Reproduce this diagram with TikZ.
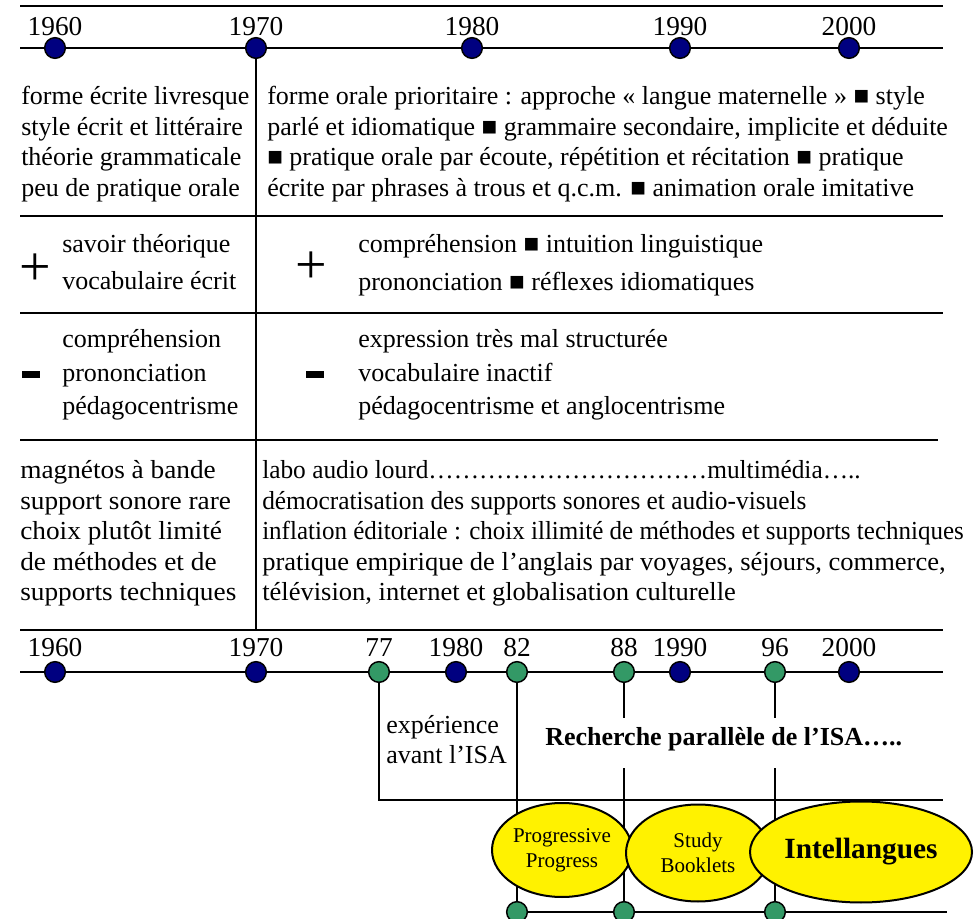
\documentclass[tikz,border=0pt]{standalone}
\usepackage{graphicx}
\usepackage{fontspec}
\setmainfont{Liberation Serif}
\usetikzlibrary{shapes.geometric,backgrounds}
\definecolor{navydot}{RGB}{0,0,128}
\definecolor{greendot}{RGB}{51,153,102}
\begin{document}
\begin{tikzpicture}[x=0.75pt,y=-0.75pt,
  ln/.style={line width=2.2pt},
  dotn/.style={circle,draw=black,line width=1.1pt,fill=navydot,minimum size=15.5pt,inner sep=0pt},
  dotg/.style={dotn,fill=greendot},
  txt/.style={font=\fontsize{19.5}{23}\selectfont,inner sep=0pt,anchor=base west},
  yr/.style={font=\fontsize{20.5}{24}\selectfont,inner sep=0pt},
  sign/.style={font=\fontsize{42}{42}\selectfont,inner sep=0pt},
  ell/.style={ellipse,draw=black,line width=1.5pt,fill=yellow,inner sep=0pt,align=center}]
\useasboundingbox (0,0) rectangle (975,919);
\clip (0,0) rectangle (975,919);

% ---------- top timeline
\foreach \yy/\xx in {1960/55,1970/256,1980/472,1990/680,2000/849}{
  \node[yr] (ty\yy) at (\xx,27) {\yy};
  \node[dotn] (td\yy) at (\xx,48) {};
}

% ---------- row 1
\foreach \t [count=\i] in {{forme écrite livresque},{style écrit et littéraire},{théorie grammaticale},{peu de pratique orale}}
  \node[txt] (ra\i) at ({21},{105+30.5*(\i-1)}) {\t};
\foreach \t [count=\i] in {{forme orale prioritaire : approche « langue maternelle » ■ style},{parlé et idiomatique ■ grammaire secondaire, implicite et déduite},{■ pratique orale par écoute, répétition et récitation ■ pratique},{écrite par phrases à trous et q.c.m. ■ animation orale imitative}}
  \node[txt] (rb\i) at ({267},{105+30.5*(\i-1)}) {\t};

% ---------- row 2 (+)
\node[sign] (plusA) at (35,270) {+};
\node[sign] (plusB) at (311,268) {+};
\node[txt] (pa1) at (62,253) {savoir théorique};
\node[txt] (pa2) at (62,290) {vocabulaire écrit};
\node[txt] (pb1) at (358,253) {compréhension ■ intuition linguistique};
\node[txt] (pb2) at (358,291) {prononciation ■ réflexes idiomatiques};

% ---------- row 3 (-)
\node[inner sep=0pt] (minA) at (31,375) {\rule{13.5pt}{5.25pt}};
\node[inner sep=0pt] (minB) at (315,375) {\rule{13.5pt}{5.25pt}};
\foreach \t [count=\i] in {{compréhension},{prononciation},{pédagocentrisme}}
  \node[txt] (ma\i) at ({62},{348+33.5*(\i-1)}) {\t};
\foreach \t [count=\i] in {{expression très mal structurée},{vocabulaire inactif},{pédagocentrisme et anglocentrisme}}
  \node[txt] (mb\i) at ({358},{348+33.5*(\i-1)}) {\t};

% ---------- row 4
\foreach \t [count=\i] in {{magnétos à bande},{support sonore rare},{choix plutôt limité},{de méthodes et de},{supports techniques}}
  \node[txt] (sa\i) at ({20},{479+30.5*(\i-1)}) {\scalebox{1.05}[1]{\t}};
\foreach \s/\t [count=\i] in {0.975/{labo audio lourd……………………………multimédia…..},0.975/{démocratisation des supports sonores et audio-visuels},0.962/{inflation éditoriale : choix illimité de méthodes et supports techniques},1.02/{pratique empirique de l’anglais par voyages, séjours, commerce,},1.02/{télévision, internet et globalisation culturelle}}
  \node[txt] (sb\i) at ({262},{479+30.5*(\i-1)}) {\scalebox{\s}[1]{\t}};

% ---------- bottom timeline
\foreach \yy/\xx in {1960/55,1970/256,1980/456,1990/680,2000/849}{
  \node[yr] (by\yy) at (\xx,648) {\yy};
  \node[dotn] (bd\yy) at (\xx,672) {};
}
\foreach \yy/\xx in {77/379,82/517,88/624,96/775}{
  \node[yr] (by\yy) at (\xx,648) {\yy};
  \node[dotg] (bd\yy) at (\xx,672) {};
}
\foreach \yy/\xx in {82/517,88/624,96/775}
  \node[dotg] (gd\yy) at (\xx,912) {};

\node[txt] (exp1) at (386,733) {expérience};
\node[txt] (exp2) at (386,763) {avant l’ISA};
\node[txt,font=\fontsize{19.5}{23}\selectfont\bfseries] (rech) at (545,745) {Recherche parallèle de l’ISA…..};

% ---------- lines (behind)
\begin{pgfonlayer}{background}
\draw[ln] (20,6) -- (943,6);
\draw[ln] (20,48) -- (943,48);
\draw[ln] (td1970.center) -- (256,630);
\draw[ln] (20,216) -- (943,216);
\draw[ln] (20,313) -- (943,313);
\draw[ln] (20,440) -- (938,440);
\draw[ln] (20,630) -- (943,630);
\draw[ln] (20,672) -- (943,672);
\draw[ln] (bd77.center) -- (379,800) -- (943,800);
\draw[ln] (bd82.center) -- (gd82.center) -- (947,912);
\draw[ln] (bd88.center) -- (624,718);
\draw[ln] (624,768) -- (gd88.center);
\draw[ln] (bd96.center) -- (775,718);
\draw[ln] (775,768) -- (gd96.center);
\end{pgfonlayer}

% ---------- ellipses
\node[ell,minimum width=105pt,minimum height=70.5pt,font=\fontsize{15.75}{18.5}\selectfont] (pp) at (562,850) {Progressive\\Progress};
\node[ell,minimum width=108pt,minimum height=72.75pt,font=\fontsize{15.75}{18.5}\selectfont] (sb) at (698,853) {Study\\Booklets};
\node[ell,minimum width=166.5pt,minimum height=75.75pt,font=\fontsize{22}{26}\selectfont\bfseries] (il) at (861,852) {Intellangues};
\end{tikzpicture}
\end{document}
